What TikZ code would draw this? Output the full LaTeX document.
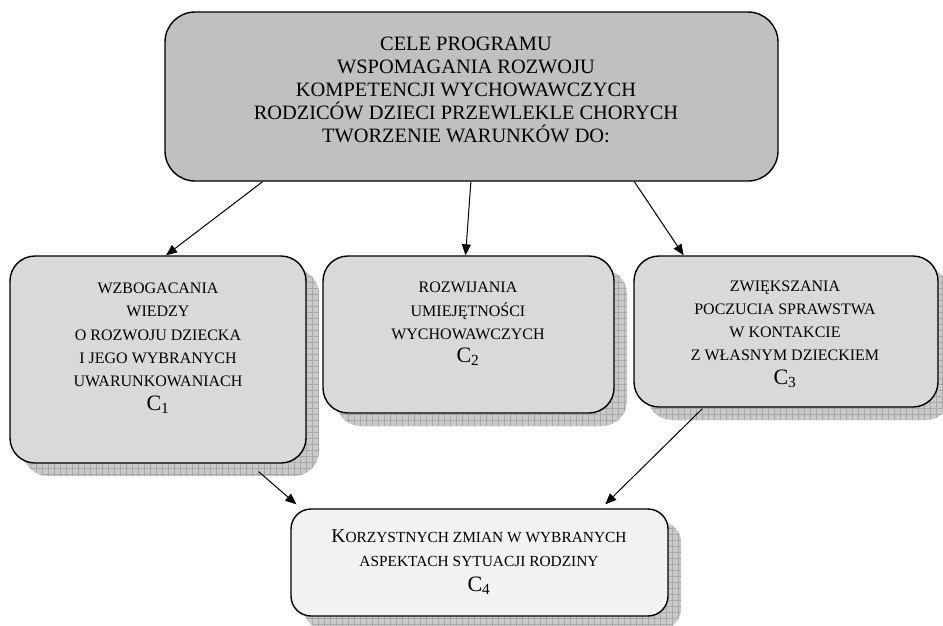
\documentclass[tikz,border=0pt]{standalone}
\usepackage{fontspec}
\setmainfont{Liberation Serif}
\usetikzlibrary{arrows.meta,calc}
\definecolor{topfill}{HTML}{C0C0C0}
\definecolor{midfill}{HTML}{D9D9D9}
\definecolor{lowfill}{HTML}{F2F2F2}
\definecolor{shadowfill}{HTML}{CACACA}
\definecolor{shadowgrid}{HTML}{A8A8A8}
\begin{document}
\begin{tikzpicture}[x=1pt,y=-1pt,
  box/.style={draw=black,line width=1.4pt,inner sep=0pt,rounded corners=25pt},
  bigtxt/.style={align=center,inner sep=0pt,font=\fontsize{20.4}{23}\selectfont},
  smalltxt/.style={align=center,inner sep=0pt,font=\fontsize{16}{23.3}\selectfont},
  arr/.style={line width=1pt,-{Triangle[length=11pt,width=9pt]}}]
\useasboundingbox (0,0) rectangle (943,625);
\fill[white] (0,0) rectangle (943,625);
% shadows
\foreach \xa/\ya/\xb/\yb/\r in {10/256/306/463/25,323/256/614/413/25,634/256/938/407/25,291/509/668/616/20}{
  \begin{scope}
    \clip[rounded corners=\r pt] (\xa+13,\ya+13) rectangle (\xb+13,\yb+13);
    \fill[shadowfill] (\xa,\ya) rectangle (\xb+20,\yb+20);
    \draw[shadowgrid,line width=0.45pt,step=6pt] (\xa,\ya) grid (\xb+20,\yb+20);
  \end{scope}
}
% boxes
\node[box,fill=topfill,minimum width=613pt,minimum height=169pt,rounded corners=30pt] (top) at (471.5,96.5) {};
\node[box,fill=midfill,minimum width=296pt,minimum height=207pt] (c1) at (158,359.5) {};
\node[box,fill=midfill,minimum width=291pt,minimum height=157pt] (c2) at (468.5,334.5) {};
\node[box,fill=midfill,minimum width=304pt,minimum height=151pt] (c3) at (786,331.5) {};
\node[box,fill=lowfill,minimum width=377pt,minimum height=107pt,rounded corners=20pt] (c4) at (479.5,562.5) {};
% texts
\node[bigtxt] (ttop) at (466,90) {CELE PROGRAMU\\WSPOMAGANIA ROZWOJU\\KOMPETENCJI WYCHOWAWCZYCH\\RODZICÓW DZIECI PRZEWLEKLE CHORYCH\\TWORZENIE WARUNKÓW DO:};
\node[smalltxt] (t1) at (158,348) {WZBOGACANIA\\WIEDZY\\O ROZWOJU DZIECKA\\I JEGO WYBRANYCH\\UWARUNKOWANIACH\\{\fontsize{22}{23}\selectfont C\textsubscript{1}}};
\node[smalltxt] (t2) at (468,324) {ROZWIJANIA\\UMIEJĘTNOŚCI\\WYCHOWAWCZYCH\\{\fontsize{22}{23}\selectfont C\textsubscript{2}}};
\node[smalltxt] (t3) at (785,334) {ZWIĘKSZANIA\\POCZUCIA SPRAWSTWA\\W KONTAKCIE\\Z WŁASNYM DZIECKIEM\\{\fontsize{22}{23}\selectfont C\textsubscript{3}}};
\node[smalltxt,font=\fontsize{15.4}{24.5}\selectfont] (t4) at (479,562) {{\fontsize{19.5}{24.5}\selectfont K}{\fontsize{15.4}{24.5}\selectfont ORZYSTNYCH ZMIAN W WYBRANYCH}\\ASPEKTACH SYTUACJI RODZINY\\{\fontsize{22}{24.5}\selectfont C\textsubscript{4}}};
% connectors
\draw[arr] ($(top.south west)!0.16!(top.south east)$) -- ($(c1.north west)!0.527!(c1.north east)$);
\draw[arr] ($(top.south west)!0.499!(top.south east)$) -- ($(c2.north west)!0.49!(c2.north east)$);
\draw[arr] ($(top.south west)!0.765!(top.south east)$) -- ($(c3.north west)!0.165!(c3.north east)$);
\draw[arr] ($(c1.south east)+(-48,8)$) -- ($(c4.north west)+(6,-4)$);
\draw[arr] ($(c3.south west)+(69,1)$) -- ($(c4.north west)+(315,-4)$);
\end{tikzpicture}
\end{document}
